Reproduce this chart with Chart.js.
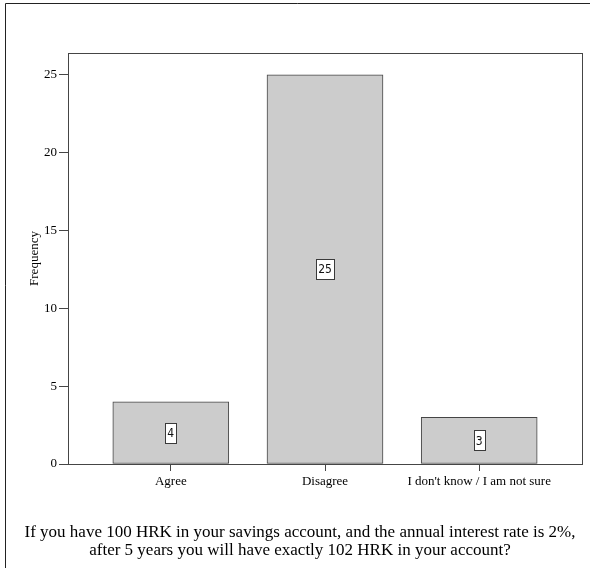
<!DOCTYPE html>
<html>
<head>
<meta charset="utf-8">
<script src="https://cdn.jsdelivr.net/npm/chart.js@4/dist/chart.umd.min.js"></script>
<style>
  html, body { margin: 0; padding: 0; background: #fff; }
  #wrap { width: 590px; height: 568px; position: relative; }
</style>
</head>
<body>
<div id="wrap"><canvas id="c" width="590" height="568"></canvas></div>
<script>
// Survey responses
const categories = ['Agree', 'Disagree', "I don't know / I am not sure"];
const frequencies = [4, 25, 3];
const yTicks = [0, 5, 10, 15, 20, 25];
const questionLines = [
  'If you have 100 HRK in your savings account, and the annual interest rate is 2%,',
  'after 5 years you will have exactly 102 HRK in your account?'
];
const yAxisTitle = 'Frequency';

const SERIF = '"Liberation Serif", "Times New Roman", serif';
const SANS = '"DejaVu Sans Condensed", "DejaVu Sans", sans-serif';
const LINE = '#454545';

// Box around the plotting area (top and right sides complete the axes)
const frameBox = {
  id: 'frameBox',
  afterDatasetsDraw(chart) {
    const { ctx, chartArea: a } = chart;
    ctx.save();
    ctx.strokeStyle = LINE;
    ctx.lineWidth = 1;
    ctx.strokeRect(Math.round(a.left) + 0.5, Math.round(a.top) + 0.5,
      Math.round(a.right - a.left), Math.round(a.bottom - a.top));
    ctx.restore();
  }
};

// Boxed count label in the middle of each bar
const valueBoxes = {
  id: 'valueBoxes',
  afterDatasetsDraw(chart) {
    const { ctx } = chart;
    const meta = chart.getDatasetMeta(0);
    ctx.save();
    ctx.font = '12px ' + SANS;
    ctx.textAlign = 'center';
    ctx.textBaseline = 'middle';
    meta.data.forEach((bar, i) => {
      const txt = String(frequencies[i]);
      const cx = bar.x;
      const cy = (bar.y + bar.base) / 2;
      const w = Math.round(ctx.measureText(txt).width + 4);
      const h = 20;
      const x0 = Math.round(cx - w / 2) + 0.5;
      const y0 = Math.round(cy - h / 2) + 0.5;
      ctx.fillStyle = '#ffffff';
      ctx.fillRect(x0, y0, w, h);
      ctx.strokeStyle = '#3a3a3a';
      ctx.lineWidth = 1;
      ctx.strokeRect(x0, y0, w, h);
      ctx.fillStyle = '#111';
      ctx.fillText(txt, cx, cy + 1);
    });
    ctx.restore();
  }
};

// Outer border lines and the question text under the chart
const pageDecor = {
  id: 'pageDecor',
  afterDraw(chart) {
    const { ctx, width, height } = chart;
    ctx.save();
    ctx.strokeStyle = '#222';
    ctx.lineWidth = 1;
    ctx.beginPath();
    ctx.moveTo(5.5, height);
    ctx.lineTo(5.5, 3.5);
    ctx.lineTo(width, 3.5);
    ctx.stroke();

    ctx.fillStyle = '#000';
    ctx.font = '17px ' + SERIF;
    ctx.textAlign = 'center';
    ctx.textBaseline = 'middle';
    questionLines.forEach((line, i) => {
      ctx.fillText(line, 300, 533 + i * 18);
    });
    ctx.restore();
  }
};

new Chart(document.getElementById('c'), {
  type: 'bar',
  data: {
    datasets: [{
      data: frequencies.map((v, i) => ({ x: i + 1, y: v })),
      backgroundColor: '#cccccc',
      borderColor: LINE,
      borderWidth: 1,
      borderSkipped: false,
      barThickness: 116
    }]
  },
  options: {
    responsive: false,
    animation: false,
    devicePixelRatio: 1,
    layout: { padding: { top: 53, right: 8, bottom: 76, left: 0 } },
    plugins: {
      legend: { display: false },
      tooltip: { enabled: false },
      title: { display: false }
    },
    scales: {
      x: {
        type: 'linear',
        offset: false,
        min: 1 / 3,
        max: 11 / 3,
        afterBuildTicks(s) { s.ticks = categories.map((c, i) => ({ value: i + 1 })); },
        afterFit(s) { s.height = 28; },
        grid: { display: true, offset: false, drawOnChartArea: false, drawTicks: true, tickLength: 7, color: LINE, lineWidth: 1 },
        border: { display: true, color: LINE, width: 1 },
        ticks: {
          autoSkip: false,
          maxRotation: 0,
          padding: 3,
          color: '#000',
          font: { family: SERIF, size: 13 },
          callback: (v) => categories[Math.round(v) - 1] ?? ''
        }
      },
      y: {
        type: 'linear',
        min: 0,
        max: 26.4,
        afterBuildTicks(s) { s.ticks = yTicks.map(v => ({ value: v })); },
        afterFit(s) { s.width = 68; },
        grid: { display: true, drawOnChartArea: false, drawTicks: true, tickLength: 9, color: LINE, lineWidth: 1 },
        border: { display: true, color: LINE, width: 1 },
        ticks: {
          padding: 2,
          color: '#000',
          font: { family: SERIF, size: 13 }
        },
        title: {
          display: true,
          text: yAxisTitle,
          color: '#000',
          font: { family: SERIF, size: 13 },
          padding: { top: 27, bottom: 0 }
        }
      }
    }
  },
  plugins: [frameBox, valueBoxes, pageDecor]
});
</script>
</body>
</html>
